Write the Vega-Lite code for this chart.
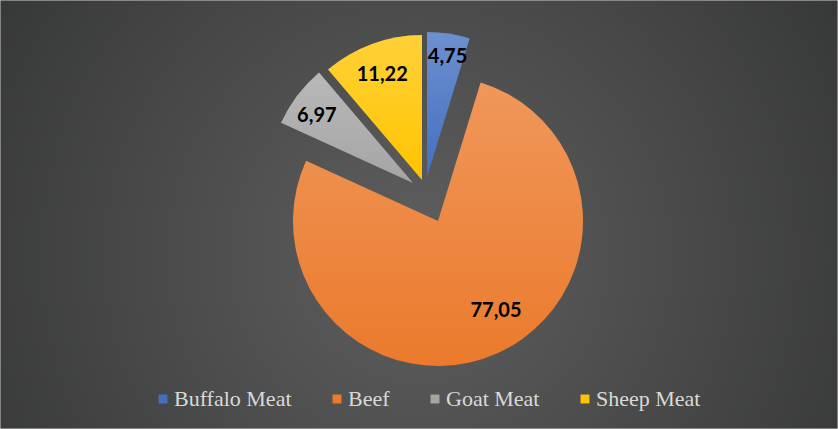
{
  "$schema": "https://vega.github.io/schema/vega-lite/v6.json",
  "width": 838,
  "height": 429,
  "autosize": "none",
  "padding": 0,
  "background": "#3a3a3a",
  "config": {
    "view": {"stroke": null},
    "locale": {"number": {"decimal": ",", "thousands": ".", "grouping": [3], "currency": ["", " €"]}}
  },
  "datasets": {
    "meat": [
      {"Meat": "Buffalo Meat", "Share": 4.75},
      {"Meat": "Beef", "Share": 77.05},
      {"Meat": "Goat Meat", "Share": 6.97},
      {"Meat": "Sheep Meat", "Share": 11.22}
    ]
  },
  "layer": [
    {
      "data": {"values": [{}]},
      "mark": {
        "type": "rect",
        "color": {
          "gradient": "radial",
          "x1": 0.5, "y1": 0.55, "r1": 0,
          "x2": 0.5, "y2": 0.55, "r2": 0.75,
          "stops": [
            {"offset": 0, "color": "#5f5f5f"},
            {"offset": 1, "color": "#2c2d2d"}
          ]
        },
        "stroke": "#d0d0d0",
        "strokeWidth": 1
      },
      "encoding": {}
    },
    {
      "data": {"name": "meat"},
      "transform": [
        {"calculate": "indexof(['Buffalo Meat','Beef','Goat Meat','Sheep Meat'], datum.Meat)", "as": "ord"}
      ],
      "mark": {
        "type": "arc",
        "outerRadius": 145,
        "xOffset": {"expr": "datum.Meat === 'Beef' ? 19 : datum.Meat === 'Buffalo Meat' ? 8 : datum.Meat === 'Sheep Meat' ? 3 : -6"},
        "yOffset": {"expr": "datum.Meat === 'Beef' ? 6.5 : datum.Meat === 'Buffalo Meat' ? -37.5 : datum.Meat === 'Sheep Meat' ? -34.5 : -31.5"}
      },
      "encoding": {
        "theta": {"field": "Share", "type": "quantitative", "stack": true},
        "order": {"field": "ord", "type": "quantitative"},
        "color": {
          "field": "Meat",
          "type": "nominal",
          "scale": {
            "domain": ["Buffalo Meat", "Beef", "Goat Meat", "Sheep Meat"],
            "range": ["#4470c0", "#eb7a2c", "#a5a5a5", "#ffc400"]
          },
          "legend": {
            "orient": "none",
            "direction": "horizontal",
            "legendX": 152,
            "legendY": 388,
            "title": null,
            "symbolType": "square",
            "symbolSize": 80,
            "symbolStrokeWidth": 0,
            "labelFont": "Liberation Serif",
            "labelFontSize": 22,
            "labelColor": "#d9d9d9",
            "labelOffset": 0,
            "columnPadding": 34
          }
        }
      }
    },
    {
      "data": {"name": "meat"},
      "transform": [
        {"calculate": "indexof(['Buffalo Meat','Beef','Goat Meat','Sheep Meat'], datum.Meat)", "as": "ord"}
      ],
      "mark": {
        "type": "arc",
        "outerRadius": 145,
        "fill": {
          "gradient": "linear",
          "x1": 0, "y1": 0, "x2": 0, "y2": 1,
          "stops": [
            {"offset": 0, "color": "rgba(255,255,255,0.22)"},
            {"offset": 1, "color": "rgba(255,255,255,0)"}
          ]
        },
        "xOffset": {"expr": "datum.Meat === 'Beef' ? 19 : datum.Meat === 'Buffalo Meat' ? 8 : datum.Meat === 'Sheep Meat' ? 3 : -6"},
        "yOffset": {"expr": "datum.Meat === 'Beef' ? 6.5 : datum.Meat === 'Buffalo Meat' ? -37.5 : datum.Meat === 'Sheep Meat' ? -34.5 : -31.5"}
      },
      "encoding": {
        "theta": {"field": "Share", "type": "quantitative", "stack": true},
        "order": {"field": "ord", "type": "quantitative"}
      }
    },
    {
      "data": {"name": "meat"},
      "transform": [
        {"calculate": "indexof(['Buffalo Meat','Beef','Goat Meat','Sheep Meat'], datum.Meat)", "as": "ord"}
      ],
      "mark": {
        "type": "text",
        "font": "Lato",
        "fontWeight": "bold",
        "fontSize": 20,
        "color": "#000000",
        "radius": {"expr": "datum.Meat === 'Beef' ? 105 : 118"},
        "xOffset": {"expr": "datum.Meat === 'Beef' ? 34 : datum.Meat === 'Buffalo Meat' ? 11 : datum.Meat === 'Sheep Meat' ? 4 : -8"},
        "yOffset": {"expr": "datum.Meat === 'Beef' ? 0.5 : datum.Meat === 'Buffalo Meat' ? -40.5 : datum.Meat === 'Sheep Meat' ? -28.5 : -27.5"}
      },
      "encoding": {
        "theta": {"field": "Share", "type": "quantitative", "stack": true},
        "order": {"field": "ord", "type": "quantitative"},
        "text": {"field": "Share", "type": "quantitative", "format": ".2f"}
      }
    }
  ]
}
